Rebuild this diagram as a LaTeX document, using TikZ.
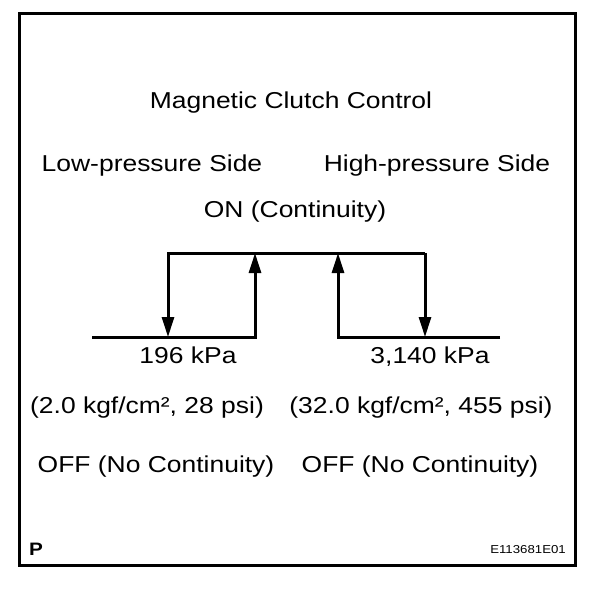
\documentclass[tikz,border=0pt]{standalone}
\usepackage{fontspec}
\setmainfont{Liberation Sans}[FakeStretch=1.15]
\usetikzlibrary{arrows.meta}
\begin{document}
\begin{tikzpicture}[x=1pt,y=-1pt,
  lbl/.style={anchor=base,inner sep=0pt,font=\fontsize{23}{27}\selectfont},
  wire/.style={line width=3pt},
  arr/.style={wire,-{Triangle[width=12pt,length=20pt]}}]
\useasboundingbox (0,0) rectangle (608,590);
\draw[line width=3pt] (19,13.5) rectangle (575,565);
\node[lbl] (title) at (291,108.5) {Magnetic Clutch Control};
\node[lbl] (low) at (152,171) {Low-pressure Side};
\node[lbl] (high) at (437,171) {High-pressure Side};
\node[lbl] (on) at (295,217) {ON (Continuity)};
\node[lbl] (kpa1) at (188,363) {196 kPa};
\node[lbl] (kpa2) at (430,363) {3,140 kPa};
\node[lbl] (kgf1) at (147,413) {(2.0 kgf/cm², 28 psi)};
\node[lbl] (kgf2) at (421,413) {(32.0 kgf/cm², 455 psi)};
\node[lbl] (off1) at (156,472) {OFF (No Continuity)};
\node[lbl] (off2) at (420,472) {OFF (No Continuity)};
\node[anchor=base west,inner sep=0pt,font=\fontsize{18}{20}\selectfont\bfseries] (p) at (29,555) {P};
\node[anchor=base east,inner sep=0pt,font=\fontsize{11.5}{13}\selectfont] (code) at (566,553) {E113681E01};
\coordinate (bl) at (92,337);
\coordinate (br) at (500,337);
\coordinate (b1) at (168,337);
\coordinate (b2) at (255,337);
\coordinate (b3) at (338,337);
\coordinate (b4) at (425,337);
\coordinate (t1) at (168,253);
\coordinate (t2) at (255,253);
\coordinate (t3) at (338,253);
\coordinate (t4) at (425,253);
\draw[arr] (t4) -- (t1) -- (b1);
\draw[arr] (bl) -- (b2) -- (t2);
\draw[arr] (br) -- (b3) -- (t3);
\draw[arr] (t4) -- (b4);
\end{tikzpicture}
\end{document}
